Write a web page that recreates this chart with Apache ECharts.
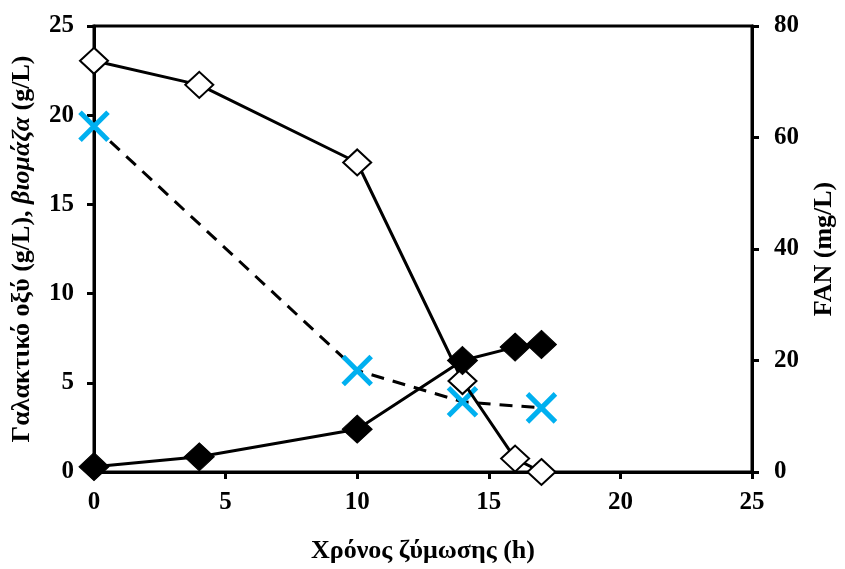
<!DOCTYPE html>
<html>
<head>
<meta charset="utf-8">
<script src="https://cdn.jsdelivr.net/npm/echarts@6/dist/echarts.min.js"></script>
<style>
* { margin: 0; padding: 0; }
html, body { background: #fff; }
</style>
</head>
<body>
<div id="chart" style="width: 845px;height: 569px;"></div>
<script>
// time (h)
var time = [0, 4, 10, 14, 16, 17];
var lactose = [23.05, 21.7, 17.35, 5.1, 0.75, 0.0];       // open diamonds
var lacticAcid = [0.3, 0.85, 2.4, 6.25, 7.0, 7.15];      // filled diamonds
var fanTime = [0, 10, 14, 17];
var fan = [62.0, 18.2, 12.6, 11.5];                      // mg/L, right axis

function pairs(xs, ys) {
  return xs.map(function (x, i) { return [x, ys[i]]; });
}

var font = 'Liberation Serif, Times New Roman, serif';
var chart = echarts.init(document.getElementById('chart'));
chart.setOption({
  animation: false,
  backgroundColor: '#fff',
  textStyle: { fontFamily: font },
  grid: {
    left: 94, right: 87, top: 26, bottom: 95,
    show: true, borderColor: '#000', borderWidth: 3, backgroundColor: 'transparent'
  },
  xAxis: {
    type: 'value', min: 0, max: 25, interval: 5,
    name: 'Χρόνος ζύμωσης (h)', nameLocation: 'middle', nameGap: 66,
    nameTextStyle: { fontSize: 26, fontWeight: 'bold', color: '#000', fontFamily: font },
    axisLine: { lineStyle: { color: '#000', width: 3 } },
    axisTick: { inside: false, length: 7, lineStyle: { color: '#000', width: 3 } },
    axisLabel: { margin: 18, fontSize: 25, fontWeight: 'bold', color: '#000', fontFamily: font },
    splitLine: { show: false }
  },
  yAxis: [{
    type: 'value', min: 0, max: 25, interval: 5, position: 'left',
    name: '{b|Γαλακτικό οξύ (g/L), }{i|βιομάζα}{b| (g/L)}',
    nameLocation: 'middle', nameGap: 59, nameRotate: 90,
    nameTextStyle: {
      fontSize: 26, fontWeight: 'bold', color: '#000', fontFamily: font,
      rich: {
        b: { fontSize: 26, fontWeight: 'bold', color: '#000', fontFamily: font },
        i: { fontSize: 26, fontWeight: 'bold', fontStyle: 'italic', color: '#000', fontFamily: font }
      }
    },
    axisLine: { show: true, lineStyle: { color: '#000', width: 3 } },
    axisTick: { show: true, length: 7, lineStyle: { color: '#000', width: 3 } },
    axisLabel: { margin: 20, fontSize: 25, fontWeight: 'bold', color: '#000', fontFamily: font },
    splitLine: { show: false }
  }, {
    type: 'value', min: 0, max: 80, interval: 20, position: 'right',
    name: 'FAN (mg/L)', nameLocation: 'middle', nameGap: 59, nameRotate: 90,
    nameTextStyle: { fontSize: 26, fontWeight: 'bold', color: '#000', fontFamily: font },
    axisLine: { show: true, lineStyle: { color: '#000', width: 3 } },
    axisTick: { show: true, length: 7, lineStyle: { color: '#000', width: 3 } },
    axisLabel: { margin: 22, fontSize: 25, fontWeight: 'bold', color: '#000', fontFamily: font },
    splitLine: { show: false }
  }],
  series: [{
    name: 'FAN', type: 'line', yAxisIndex: 1, z: 3,
    data: pairs(fanTime, fan),
    lineStyle: { color: '#000', width: 3, type: [13, 9] },
    symbol: 'path://M0,0L10,10M10,0L0,10', symbolSize: 28,
    itemStyle: { color: 'none', borderColor: '#00B0F0', borderWidth: 5 }
  }, {
    name: 'lactose', type: 'line', yAxisIndex: 0, z: 4,
    data: pairs(time, lactose),
    lineStyle: { color: '#000', width: 3 },
    symbol: 'diamond', symbolSize: [28, 26],
    itemStyle: { color: '#fff', borderColor: '#000', borderWidth: 2 }
  }, {
    name: 'lactic', type: 'line', yAxisIndex: 0, z: 5,
    data: pairs(time, lacticAcid),
    lineStyle: { color: '#000', width: 3 },
    symbol: 'diamond', symbolSize: [30, 28],
    itemStyle: { color: '#000', borderColor: '#000', borderWidth: 1 }
  }]
});
</script>
</body>
</html>
